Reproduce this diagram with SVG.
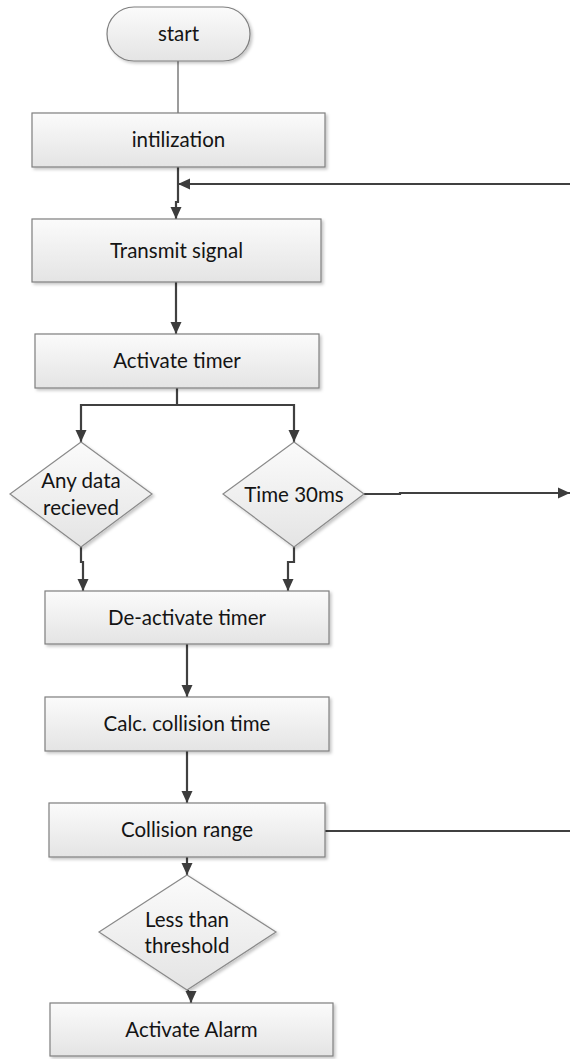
<svg xmlns="http://www.w3.org/2000/svg" width="570" height="1059" viewBox="0 0 570 1059">
<style>
.box{fill:url(#g);stroke:#7f7f7f;stroke-width:1.2;filter:url(#sh)}
.dia{fill:url(#g);stroke:#8a8a8a;stroke-width:1.2;filter:url(#sh)}
.t{font-family:Lato,"Open Sans","Liberation Sans",sans-serif;font-size:20.5px;fill:#141414;text-anchor:middle;dominant-baseline:central}
.c{fill:none;stroke:#404040;stroke-width:2.2}
.thin{fill:none;stroke:#5a5a5a;stroke-width:1.2}
</style>
<defs>
<linearGradient id="g" x1="0" y1="0" x2="0" y2="1">
<stop offset="0" stop-color="#fbfbfb"/>
<stop offset="1" stop-color="#e4e4e4"/>
</linearGradient>
<filter id="sh" x="-10%" y="-10%" width="130%" height="130%">
<feDropShadow dx="2" dy="2" stdDeviation="1.5" flood-color="#000" flood-opacity="0.22"/>
</filter>
<marker id="a" markerWidth="12" markerHeight="12" viewBox="0 0 12 12" refX="12" refY="6" orient="auto" markerUnits="userSpaceOnUse">
<path d="M0,0.5 L12,6 L0,11.5 z" fill="#3c3c3c"/>
</marker>
</defs>
<rect width="570" height="1059" fill="#fff"/>
<g id="connectors">
<path class="thin" d="M178,61 V113"/>
<path class="c" d="M178,167 V202 H176 V219" marker-end="url(#a)"/>
<path class="c" d="M570,184 H178" marker-end="url(#a)"/>
<path class="c" d="M176,282 V334" marker-end="url(#a)"/>
<path class="c" d="M177,388 V405 H81 V442" marker-end="url(#a)"/>
<path class="c" d="M177,405 H294 V442" marker-end="url(#a)"/>
<path class="c" d="M364,494 H400 V493 H570" marker-end="url(#a)"/>
<path class="c" d="M81,547 V562 H83 V591" marker-end="url(#a)"/>
<path class="c" d="M294,547 V562 H288 V591" marker-end="url(#a)"/>
<path class="c" d="M187,644 V697" marker-end="url(#a)"/>
<path class="c" d="M187,751 V803" marker-end="url(#a)"/>
<path class="c" d="M325,831 H570"/>
<path class="c" d="M187,857 V875" marker-end="url(#a)"/>
<path class="c" d="M188,990 V993 H191 V1003" marker-end="url(#a)"/>
</g>
<g id="start"><rect class="box" x="107" y="7" width="143" height="54" rx="27"/><text class="t" x="178.5" y="33">start</text></g>
<g id="init"><rect class="box" x="32" y="113" width="293" height="54"/><text class="t" x="178.5" y="139">intilization</text></g>
<g id="transmit"><rect class="box" x="32" y="219" width="289" height="63"/><text class="t" x="176.5" y="250">Transmit signal</text></g>
<g id="activate"><rect class="box" x="35" y="334" width="284" height="54"/><text class="t" x="177" y="360">Activate timer</text></g>
<g id="anydata"><polygon class="dia" points="81,442 152,494 81,547 10,494"/><text class="t" x="81" y="480">Any data</text><text class="t" x="81" y="507">recieved</text></g>
<g id="time30"><polygon class="dia" points="294,442 364,494 294,547 223,494"/><text class="t" x="294" y="494">Time 30ms</text></g>
<g id="deactivate"><rect class="box" x="45" y="591" width="284" height="53"/><text class="t" x="187" y="617">De-activate timer</text></g>
<g id="calc"><rect class="box" x="45" y="697" width="284" height="54"/><text class="t" x="187" y="723">Calc. collision time</text></g>
<g id="range"><rect class="box" x="49" y="803" width="276" height="54"/><text class="t" x="187" y="829">Collision range</text></g>
<g id="threshold"><polygon class="dia" points="187,875 276,932 187,990 99,932"/><text class="t" x="187" y="919">Less than</text><text class="t" x="187" y="945">threshold</text></g>
<g id="alarm"><rect class="box" x="50" y="1003" width="283" height="53"/><text class="t" x="191.5" y="1029">Activate Alarm</text></g>
</svg>
